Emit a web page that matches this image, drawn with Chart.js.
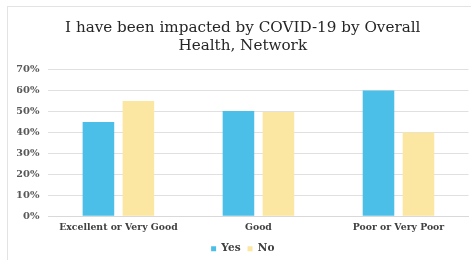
<!DOCTYPE html>
<html>
<head>
<meta charset="utf-8">
<script src="https://cdn.jsdelivr.net/npm/chart.js@4.4.1/dist/chart.umd.min.js"></script>
<style>
  html, body { margin: 0; padding: 0; background: #ffffff; }
  #wrap { position: relative; width: 471px; height: 260px; overflow: hidden; }
  #frame { position: absolute; left: 7px; top: 6px; width: 500px; height: 300px; border: 1px solid #e3e3e3; box-sizing: border-box; }
  canvas { position: absolute; left: 0; top: 0; }
</style>
</head>
<body>
<div id="wrap">
  <div id="frame"></div>
  <canvas id="c" width="471" height="260"></canvas>
</div>
<script>
const categories = ["Excellent or Very Good", "Good", "Poor or Very Poor"];
const yesValues = [45, 50.3, 60];
const noValues = [55, 49.8, 40];
const seriesNames = ["Yes", "No"];
const titleLines = ["I have been impacted by COVID-19 by Overall", "Health, Network"];

const serif = "'DejaVu Serif', 'Liberation Serif', serif";

new Chart(document.getElementById('c'), {
  type: 'bar',
  data: {
    labels: categories,
    datasets: [
      { label: seriesNames[0], data: yesValues, backgroundColor: '#4cbfe9', borderWidth: 0,
        categoryPercentage: 0.571, barPercentage: 0.79 },
      { label: seriesNames[1], data: noValues, backgroundColor: '#fbe7a1', borderWidth: 0,
        categoryPercentage: 0.571, barPercentage: 0.79 }
    ]
  },
  options: {
    responsive: false,
    animation: false,
    devicePixelRatio: 1,
    layout: { padding: { left: 17, right: 2.5, top: 0, bottom: -4 } },
    plugins: {
      title: {
        display: true,
        text: titleLines,
        color: '#262626',
        font: { family: serif, size: 15.2, weight: 'normal', lineHeight: 1.18 },
        padding: { top: 18.7, bottom: 15 }
      },
      legend: {
        display: true,
        position: 'bottom',
        labels: {
          boxWidth: 5, boxHeight: 5, padding: 7,
          color: '#404040',
          font: { family: serif, size: 10.5, weight: 'bold' }
        }
      },
      tooltip: { enabled: false }
    },
    scales: {
      x: {
        grid: { display: false, drawTicks: false },
        border: { display: true, color: '#d9d9d9' },
        afterFit: s => { s.height -= 3; },
        ticks: { color: '#404040', font: { family: serif, size: 9.3, weight: 'bold' }, padding: 6, maxRotation: 0 }
      },
      y: {
        min: 0, max: 70,
        grid: { color: '#e0e0e0', drawTicks: false },
        border: { display: false },
        afterFit: s => { s.width = 31.4; },
        ticks: {
          stepSize: 10, padding: 9,
          color: '#595959',
          font: { family: serif, size: 10, weight: 'bold' },
          callback: v => v + '%'
        }
      }
    }
  }
});
</script>
</body>
</html>
